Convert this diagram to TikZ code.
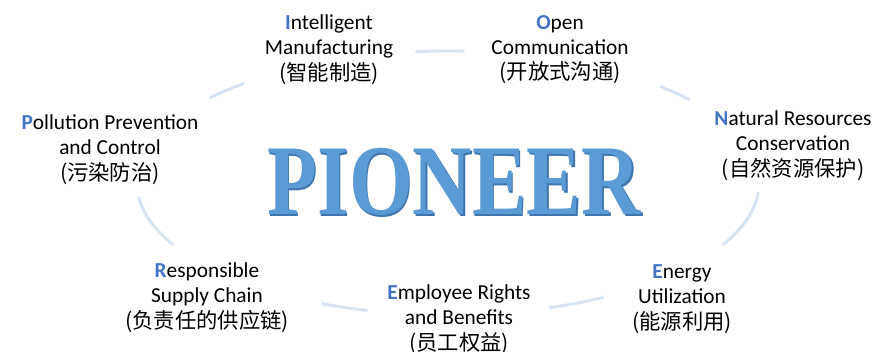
\documentclass[tikz,border=0pt]{standalone}
\usepackage{fontspec}
\setmainfont{Carlito}
\newfontfamily\cjk{Noto Sans CJK SC}
\newfontfamily\headfont{Liberation Serif}
\definecolor{ringblue}{HTML}{D5E3F4}
\definecolor{initblue}{HTML}{4472C4}
\definecolor{headblue}{HTML}{5B9BD5}
\definecolor{headedge}{HTML}{3F75AE}
\newcommand{\ini}[1]{\textcolor{initblue}{\bfseries #1}}

\begin{document}
\begin{tikzpicture}[x=0.75pt,y=0.75pt,
  item/.style={align=center,inner sep=0pt,font=\fontsize{16}{19}\selectfont},
  headline/.style={anchor=base,inner sep=0pt,font=\headfont\bfseries\fontsize{75}{75}\selectfont},
  ringseg/.style={ringblue,line width=2.2pt}]
  \useasboundingbox (0,0) rectangle (872,352);
  % ring pieces between the labels
  \foreach \s/\e in {131/140,87/96,39/47,-28/-4,-71/-60,-114/-105,186/208}
    \draw[ringseg] ([shift={(\s:311 and 132)}]448,169) arc[start angle=\s,end angle=\e,x radius=311,y radius=132];
  % word in the middle
  \node[headline,text=headedge] (headedge) at (455.5,135.5) {\scalebox{0.82}[1]{PIONEER}};
  \node[headline,text=headblue] (head) at (454,137) {\scalebox{0.82}[1]{PIONEER}};
  % the seven labels
  \node[item] (intel) at (329,302.5) {\ini{I}ntelligent\\Manufacturing\\{\cjk(智能制造)}};
  \node[item] (open) at (560,302.5) {\ini{O}pen\\Communication\\{\cjk(开放式沟通)}};
  \node[item] (natural) at (793,206.5) {\ini{N}atural Resources\\Conservation\\{\cjk(自然资源保护)}};
  \node[item] (energy) at (682,53) {\ini{E}nergy\\Utilization\\{\cjk(能源利用)}};
  \node[item] (employee) at (459,32.5) {\ini{E}mployee Rights\\and Benefits\\{\cjk(员工权益)}};
  \node[item] (supply) at (207,54.5) {\ini{R}esponsible\\Supply Chain\\{\cjk(负责任的供应链)}};
  \node[item] (pollution) at (110,202.5) {\ini{P}ollution Prevention\\and Control\\{\cjk(污染防治)}};
\end{tikzpicture}
\end{document}
